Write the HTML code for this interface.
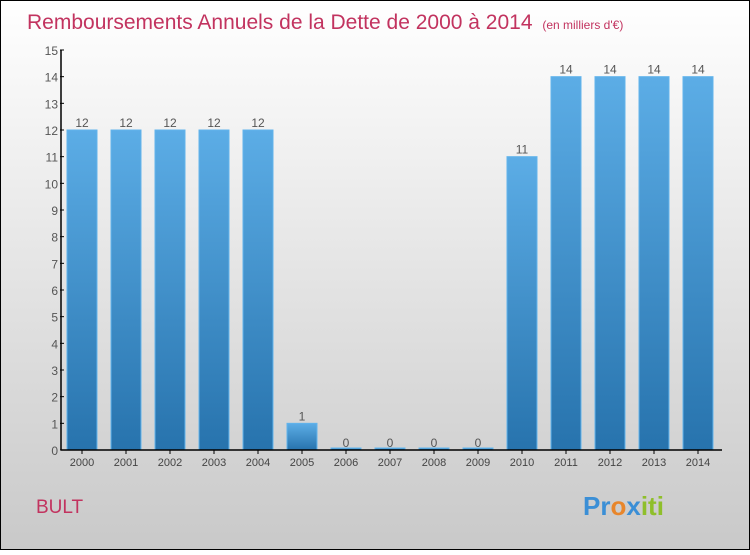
<!DOCTYPE html>
<html><head><meta charset="utf-8"><style>
body{margin:0}
svg text{font-family:"Liberation Sans",sans-serif}
</style></head><body>
<svg id="chart" width="750" height="550" xmlns="http://www.w3.org/2000/svg">
<defs>
<linearGradient id="bg" x1="0" y1="0" x2="0" y2="1"><stop offset="0" stop-color="#ffffff"/><stop offset="1" stop-color="#c9c9c9"/></linearGradient>
<linearGradient id="bar" x1="0" y1="0" x2="0" y2="1"><stop offset="0" stop-color="#5cade6"/><stop offset="1" stop-color="#2773ad"/></linearGradient>
</defs>
<rect x="0.5" y="0.5" width="749" height="549" fill="url(#bg)" stroke="#000"/>
<text x="27" y="29" font-size="21" fill="#c2335f">Remboursements Annuels de la Dette de 2000 à 2014 <tspan font-size="12" dx="4">(en milliers d'€)</tspan></text>
<text x="36" y="513" font-size="19" fill="#c2335f">BULT</text>
<g font-size="26" font-weight="bold">
<text x="583" y="515"><tspan fill="#3b8fd6">Pr</tspan><tspan fill="#e8862b">o</tspan><tspan fill="#3b8fd6">x</tspan><tspan fill="#8fbf2b">iti</tspan></text>
</g>
<g id="plot"></g>
</svg>
<script>
const categories=["2000","2001","2002","2003","2004","2005","2006","2007","2008","2009","2010","2011","2012","2013","2014"];
const values=[12,12,12,12,12,1,0,0,0,0,11,14,14,14,14];
const yTicks=[0,1,2,3,4,5,6,7,8,9,10,11,12,13,14,15];
const NS="http://www.w3.org/2000/svg";
const g=document.getElementById('plot');
const y0=450,yTop=50,yMax=15,axX=61;
const y=v=>y0-(y0-yTop)*v/yMax;
const x=i=>82+44*i;
function mk(tag,attrs,txt){const e=document.createElementNS(NS,tag);for(const k in attrs)e.setAttribute(k,attrs[k]);if(txt!==undefined)e.textContent=txt;g.appendChild(e);return e;}
yTicks.forEach(t=>{
 const l=mk('line',{x1:axX-1,x2:axX+3,y1:y(t),y2:y(t),stroke:'#000'});
 
 
 const tx=mk('text',{x:axX-3,y:y(t)+5,'font-size':12,fill:'#555','text-anchor':'end'},t);
 
 
});
categories.forEach((c,i)=>{
 const v=values[i];
 const h=Math.max(y0-y(v),2);
 const r=mk('rect',{x:x(i)-15,y:y0-h,width:30,height:h,fill:'url(#bar)',stroke:'#62b4ec','stroke-width':1});
 
 
 const vl=mk('text',{x:x(i),y:y(v)-3,'font-size':12,fill:'#555','text-anchor':'middle'},v);
 
 
 const tk=mk('line',{x1:x(i),x2:x(i),y1:y0,y2:y0+4,stroke:'#000'});
 
 
 const xl=mk('text',{x:x(i),y:y0+16,'font-size':11,fill:'#444','text-anchor':'middle'},c);
 
 
});
const ya=mk('line',{x1:axX,x2:axX,y1:yTop,y2:y0,stroke:'#000','stroke-width':1.5});


const xa=mk('line',{x1:axX,x2:722,y1:y0,y2:y0,stroke:'#000','stroke-width':1.5});


</script>
</body></html>
